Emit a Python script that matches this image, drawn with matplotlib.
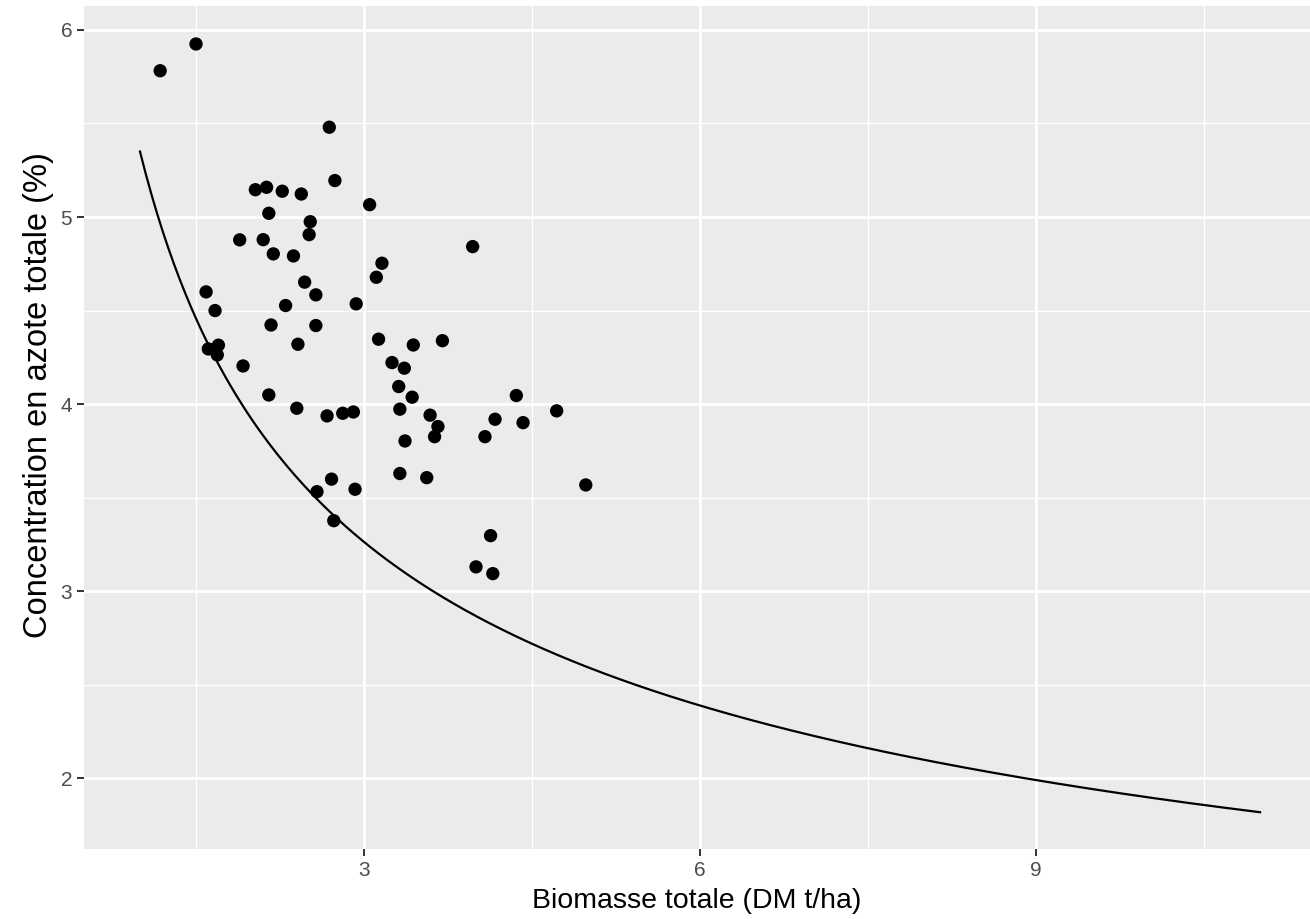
import numpy as np
import matplotlib
matplotlib.use("Agg")
import matplotlib.pyplot as plt
from matplotlib.ticker import MultipleLocator

plt.rcParams['font.family'] = ['Liberation Sans', 'DejaVu Sans']

# Observed points: biomass (DM t/ha) and N concentration (%)
biomasse = [1.18, 1.50, 2.69, 2.74, 2.03, 2.13, 2.27, 2.44, 3.05, 2.15,
            2.52, 1.89, 2.10, 2.51, 2.19, 2.37, 3.97, 3.16, 3.11, 1.59,
            2.47, 2.57, 1.67, 2.30, 2.93, 2.17, 2.57, 3.13, 3.44, 3.70,
            1.61, 1.70, 1.69, 2.41, 1.92, 3.25, 3.36, 3.31, 3.43, 2.15,
            2.40, 2.67, 2.81, 2.905, 3.32, 3.59, 3.66, 3.63, 3.366, 4.08,
            4.17, 4.36, 4.42, 4.72, 2.71, 3.32, 3.56, 2.92, 2.58, 4.98,
            2.73, 4.13, 4.00, 4.15]
azote = [5.782, 5.925, 5.48, 5.195, 5.146, 5.159, 5.138, 5.123, 5.066, 5.02,
         4.975, 4.878, 4.879, 4.906, 4.803, 4.792, 4.842, 4.753, 4.678, 4.60,
         4.652, 4.584, 4.50, 4.527, 4.536, 4.423, 4.42, 4.347, 4.316, 4.339,
         4.295, 4.315, 4.263, 4.32, 4.204, 4.222, 4.192, 4.094, 4.037, 4.049,
         3.978, 3.937, 3.951, 3.958, 3.973, 3.941, 3.88, 3.826, 3.803, 3.826,
         3.919, 4.046, 3.901, 3.964, 3.599, 3.629, 3.607, 3.545, 3.532, 3.568,
         3.377, 3.297, 3.13, 3.094]

# Critical dilution curve N = a * W^-b
curve_a = 5.35
curve_b = 0.45
curve_xmin, curve_xmax = 1.0, 11.0

x_ticks = [3, 6, 9]
y_ticks = [2, 3, 4, 5, 6]

fig = plt.figure(figsize=(13.10, 9.19), dpi=100)
ax = fig.add_axes([84 / 1310, 70 / 919, 1 - 84 / 1310, 843 / 919])
ax.set_facecolor('#EBEBEB')

wc = np.linspace(curve_xmin, curve_xmax, 400)
ax.plot(wc, curve_a * wc ** (-curve_b), color='black', lw=1.6, zorder=3)
ax.scatter(biomasse, azote, s=92, color='black', edgecolors='none', zorder=4)

ax.set_xlim(0.5, 11.446)
ax.set_ylim(1.622, 6.128)
ax.set_xticks(x_ticks)
ax.set_yticks(y_ticks)
ax.xaxis.set_minor_locator(MultipleLocator(1.5))
ax.yaxis.set_minor_locator(MultipleLocator(0.5))
ax.grid(which='major', color='white', lw=2.0)
ax.grid(which='minor', color='white', lw=1.0)
ax.set_axisbelow(True)
for s in ax.spines.values():
    s.set_visible(False)
ax.tick_params(which='major', length=5, width=1.4, color='#333333',
               labelsize=15, labelcolor='#4D4D4D', pad=3.5)
ax.tick_params(which='minor', length=0)

ax.set_xlabel('Biomasse totale (DM t/ha)', fontsize=20.5, labelpad=6)
ax.set_ylabel('Concentration en azote totale (%)', fontsize=23.5, labelpad=5)
ax.yaxis.label.set_y(0.538)

fig.savefig('out.png', dpi=100)
